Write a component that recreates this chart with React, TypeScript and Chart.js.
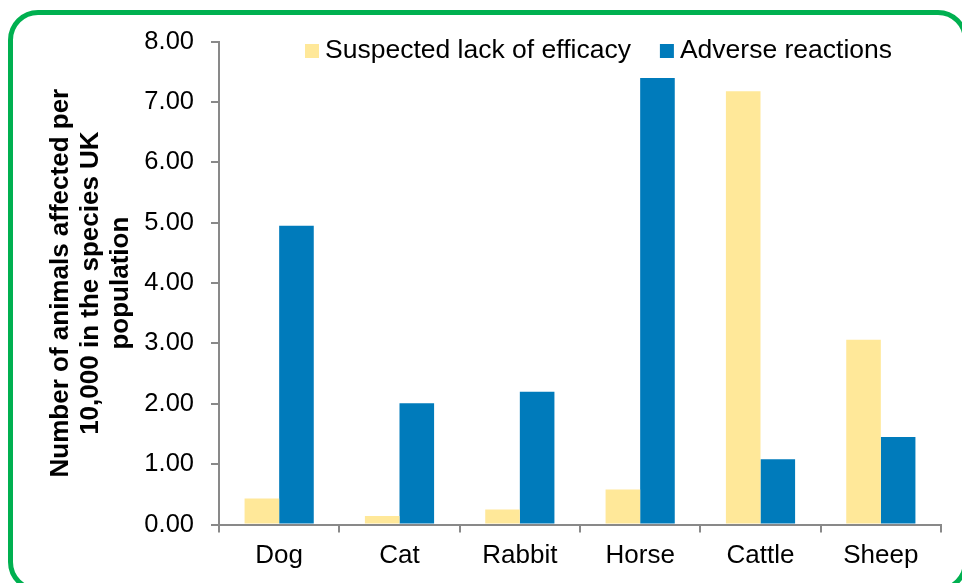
import React, { useEffect, useRef } from "react";
import { Chart, registerables } from "chart.js";

Chart.register(...registerables);

// ---- data ----
const categories = ["Dog", "Cat", "Rabbit", "Horse", "Cattle", "Sheep"];
const lackOfEfficacy = [0.43, 0.14, 0.25, 0.58, 7.18, 3.06];
const adverseReactions = [4.95, 2.01, 2.2, 7.4, 1.08, 1.45];
const seriesLabels = ["Suspected lack of efficacy", "Adverse reactions"];
const yTitleLines = ["Number of animals affected per", "10,000 in the species UK", "population"];
const yMin = 0;
const yMax = 8;
const yStep = 1;

const FONT = '"Liberation Sans", Arial, Helvetica, sans-serif';
const YELLOW = "#FFE899";
const BLUE = "#007BBB";
const AXIS = "#898989";

const insideLegend = {
  id: "insideLegend",
  afterDatasetsDraw(chart: any) {
    const { ctx, chartArea } = chart;
    ctx.save();
    ctx.font = `26.5px ${FONT}`;
    ctx.textBaseline = "alphabetic";
    ctx.textAlign = "left";
    const box = 14;
    const baseline = chartArea.top + 16.3;
    let x = chartArea.left + 86;
    chart.data.datasets.forEach((ds: any) => {
      ctx.fillStyle = ds.backgroundColor;
      ctx.fillRect(x, baseline - box, box, box);
      ctx.fillStyle = "#000";
      ctx.fillText(ds.label, x + box + 6, baseline);
      x += box + 6 + ctx.measureText(ds.label).width + 29;
    });
    ctx.restore();
  },
};

export default function App() {
  const ref = useRef<HTMLCanvasElement | null>(null);

  useEffect(() => {
    if (!ref.current) return;
    Chart.defaults.font.family = FONT;
    Chart.defaults.color = "#000";
    const chart = new Chart(ref.current, {
      type: "bar",
      data: {
        labels: categories,
        datasets: [
          {
            label: seriesLabels[0],
            data: lackOfEfficacy,
            backgroundColor: YELLOW,
            borderWidth: 0,
            categoryPercentage: 0.575,
            barPercentage: 1,
          },
          {
            label: seriesLabels[1],
            data: adverseReactions,
            backgroundColor: BLUE,
            borderWidth: 0,
            categoryPercentage: 0.575,
            barPercentage: 1,
          },
        ],
      },
      options: {
        responsive: false,
        animation: false,
        devicePixelRatio: 1,
        layout: { padding: { left: 42, top: 41.7, right: 21, bottom: 8.5 } },
        plugins: {
          legend: { display: false },
          tooltip: { enabled: false },
          title: { display: false },
        },
        scales: {
          x: {
            offset: true,
            grid: {
              offset: true,
              display: true,
              drawOnChartArea: false,
              drawTicks: true,
              tickLength: 8,
              color: AXIS,
              lineWidth: 2,
            },
            border: { display: true, color: AXIS, width: 2 },
            ticks: { font: { size: 26 }, color: "#000", padding: 8, maxRotation: 0 },
            afterFit: (s: any) => {
              s.height = 50;
            },
          },
          y: {
            min: yMin,
            max: yMax,
            grid: {
              display: true,
              drawOnChartArea: false,
              drawTicks: true,
              tickLength: 8,
              color: AXIS,
              lineWidth: 2,
            },
            border: { display: true, color: AXIS, width: 2 },
            ticks: {
              stepSize: yStep,
              font: { size: 25.5 },
              color: "#000",
              padding: 17,
              callback: (v: any) => Number(v).toFixed(2),
            },
            title: {
              display: true,
              text: yTitleLines,
              color: "#000",
              font: { size: 26, weight: "bold", lineHeight: 1.154 },
              padding: { top: 4, bottom: 4 },
            },
            afterFit: (s: any) => {
              s.width = 177;
            },
          },
        },
      },
      plugins: [insideLegend],
    } as any);
    return () => chart.destroy();
  }, []);

  return (
    <div
      style={{
        position: "fixed",
        left: 0,
        top: 0,
        width: 962,
        height: 583,
        overflow: "hidden",
        background: "#fff",
      }}
    >
      <canvas
        ref={ref}
        width={962}
        height={583}
        style={{ position: "absolute", left: 0, top: 0, width: 962, height: 583 }}
      />
      <div
        style={{
          position: "absolute",
          left: 8,
          top: 10,
          width: 960,
          height: 582,
          boxSizing: "border-box",
          border: "5px solid #00B050",
          borderRadius: 30,
          pointerEvents: "none",
        }}
      />
    </div>
  );
}
